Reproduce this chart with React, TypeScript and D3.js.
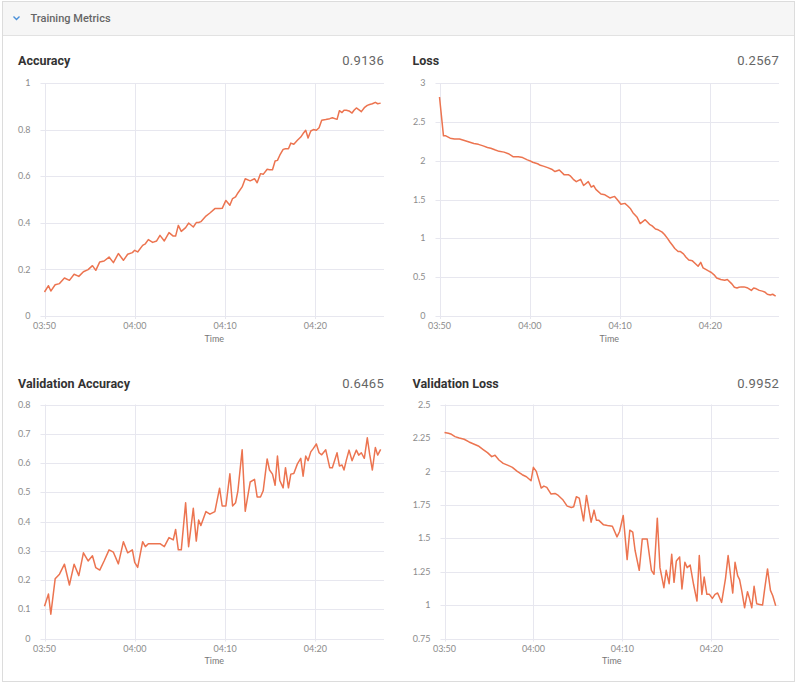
import React from "react";
import * as d3 from "d3";

// ---- data ----
const elapsedMinutes = [
  0, 0.44, 0.7, 1.18, 1.66, 2.21, 2.76, 3.28, 3.8, 4.31,
  4.83, 5.31, 5.68, 6.12, 6.6, 7.15, 7.63, 8.18, 8.74, 9.21,
  9.73, 9.99, 10.32, 10.87, 11.17, 11.5, 11.98, 12.42, 12.79, 13.27,
  13.79, 14.26, 14.52, 14.82, 15.15, 15.63, 15.96, 16.48, 16.81, 17.07,
  17.32, 17.88, 18.32, 18.87, 19.39, 19.68, 20.09, 20.53, 20.83, 21.16,
  21.42, 21.89, 22.23, 22.78, 23.26, 23.55, 23.92, 24.22, 24.66, 24.92,
  25.25, 25.54, 25.8, 26.06, 26.43, 26.69, 27.02, 27.28, 27.61, 28.01,
  28.38, 28.64, 28.93, 29.19, 29.49, 29.78, 30.11, 30.41, 30.7, 31.15,
  31.59, 31.88, 32.4, 32.66, 32.95, 33.17, 33.43, 33.73, 34.06, 34.28,
  34.54, 34.8, 35.09, 35.42, 35.75, 36.01, 36.31, 36.64, 36.9, 37.23,
];

const accuracy = [
  0.103, 0.13, 0.107, 0.134, 0.139, 0.163, 0.153, 0.179, 0.17, 0.19,
  0.199, 0.216, 0.196, 0.232, 0.236, 0.253, 0.229, 0.268, 0.239, 0.265,
  0.272, 0.282, 0.275, 0.303, 0.31, 0.328, 0.316, 0.322, 0.346, 0.322,
  0.358, 0.343, 0.343, 0.389, 0.363, 0.379, 0.399, 0.382, 0.401, 0.401,
  0.405, 0.429, 0.442, 0.461, 0.461, 0.462, 0.496, 0.475, 0.504, 0.511,
  0.528, 0.554, 0.589, 0.58, 0.589, 0.572, 0.611, 0.608, 0.63, 0.628,
  0.628, 0.665, 0.668, 0.69, 0.715, 0.718, 0.718, 0.742, 0.737, 0.754,
  0.768, 0.783, 0.797, 0.764, 0.794, 0.8, 0.797, 0.808, 0.84, 0.843,
  0.847, 0.851, 0.844, 0.881, 0.873, 0.883, 0.883, 0.88, 0.871, 0.883,
  0.893, 0.886, 0.877, 0.894, 0.904, 0.908, 0.911, 0.917, 0.911, 0.9136,
];

const loss = [
  2.82, 2.32, 2.32, 2.29, 2.28, 2.28, 2.26, 2.24, 2.22, 2.21,
  2.19, 2.17, 2.16, 2.14, 2.12, 2.11, 2.09, 2.05, 2.05, 2.04,
  2.01, 2.0, 1.98, 1.96, 1.94, 1.93, 1.91, 1.89, 1.86, 1.88,
  1.82, 1.82, 1.8, 1.76, 1.73, 1.76, 1.68, 1.73, 1.66, 1.68,
  1.63, 1.57, 1.56, 1.52, 1.54, 1.5, 1.44, 1.45, 1.42, 1.38,
  1.33, 1.27, 1.19, 1.24, 1.18, 1.16, 1.12, 1.11, 1.08, 1.05,
  1.0, 0.95, 0.91, 0.87, 0.83, 0.83, 0.8, 0.76, 0.72, 0.71,
  0.67, 0.64, 0.69, 0.62, 0.6, 0.58, 0.56, 0.53, 0.49, 0.47,
  0.46, 0.47, 0.41, 0.37, 0.36, 0.37, 0.375, 0.375, 0.365, 0.35,
  0.33, 0.36, 0.35, 0.33, 0.32, 0.31, 0.28, 0.27, 0.28, 0.2567,
];

const validationAccuracy = [
  0.11, 0.152, 0.083, 0.204, 0.22, 0.254, 0.183, 0.254, 0.215, 0.293,
  0.265, 0.283, 0.242, 0.234, 0.265, 0.303, 0.295, 0.255, 0.331, 0.293,
  0.303, 0.26, 0.243, 0.331, 0.314, 0.324, 0.324, 0.324, 0.324, 0.314,
  0.345, 0.337, 0.373, 0.303, 0.303, 0.464, 0.314, 0.445, 0.333, 0.405,
  0.386, 0.434, 0.425, 0.434, 0.514, 0.453, 0.453, 0.563, 0.453, 0.464,
  0.505, 0.645, 0.435, 0.535, 0.544, 0.484, 0.484, 0.505, 0.614, 0.576,
  0.562, 0.524, 0.624, 0.54, 0.515, 0.584, 0.515, 0.562, 0.564, 0.597,
  0.616, 0.555, 0.624, 0.608, 0.638, 0.65, 0.665, 0.635, 0.628, 0.645,
  0.584, 0.584, 0.635, 0.59, 0.593, 0.576, 0.61, 0.644, 0.608, 0.625,
  0.644, 0.627, 0.635, 0.616, 0.686, 0.63, 0.576, 0.653, 0.627, 0.6465,
];

const validationLoss = [
  2.29, 2.285, 2.28, 2.26, 2.25, 2.24, 2.22, 2.205, 2.19, 2.165,
  2.14, 2.11, 2.12, 2.085, 2.06, 2.045, 2.03, 2.0, 1.975, 1.96,
  1.93, 2.03, 2.0, 1.875, 1.89, 1.88, 1.83, 1.835, 1.82, 1.79,
  1.74, 1.73, 1.735, 1.81, 1.8, 1.63, 1.82, 1.62, 1.71, 1.635,
  1.635, 1.6, 1.595, 1.59, 1.51, 1.55, 1.67, 1.34, 1.56, 1.545,
  1.41, 1.26, 1.495, 1.495, 1.26, 1.23, 1.65, 1.28, 1.13, 1.26,
  1.16, 1.38, 1.17, 1.33, 1.36, 1.12, 1.32, 1.28, 1.3, 1.15,
  1.03, 1.37, 1.08, 1.21, 1.08, 1.08, 1.05, 1.08, 1.09, 1.02,
  1.2, 1.37, 1.09, 1.32, 1.22, 1.19, 1.1, 0.98, 1.1, 1.05,
  0.98, 1.14, 1.01, 1.005, 1.0, 1.13, 1.27, 1.11, 1.07, 0.9952,
];

const accuracyTicks = [0, 0.2, 0.4, 0.6, 0.8, 1];
const lossTicks = [0, 0.5, 1, 1.5, 2, 2.5, 3];
const validationAccuracyTicks = [0, 0.1, 0.2, 0.3, 0.4, 0.5, 0.6, 0.7, 0.8];
const validationLossTicks = [0.75, 1, 1.25, 1.5, 1.75, 2, 2.25, 2.5];

const startTime = new Date(2020, 0, 1, 3, 50, 0);
const domainMinutes = 37.6;

// ---- layout ----
const W = 800;
const H = 685;
const LINE_COLOR = "#ec7450";
const GRID = "#e7e7ef";
const TICK_TEXT = "#8c8c8c";

type PanelSpec = {
  title: string;
  values: number[];
  ticks: number[];
  left: number;
  right: number;
  top: number;
  bottom: number;
  titleLeft: number;
  titleY: number;
};

const panels: PanelSpec[] = [
  { title: "Accuracy", values: accuracy, ticks: accuracyTicks, left: 44.5, right: 384, top: 83, bottom: 316, titleLeft: 18, titleY: 64.5 },
  { title: "Loss", values: loss, ticks: lossTicks, left: 439.5, right: 779, top: 83, bottom: 316, titleLeft: 412.5, titleY: 64.5 },
  { title: "Validation Accuracy", values: validationAccuracy, ticks: validationAccuracyTicks, left: 44.5, right: 384, top: 404.5, bottom: 638.5, titleLeft: 18, titleY: 387.5 },
  { title: "Validation Loss", values: validationLoss, ticks: validationLossTicks, left: 444.5, right: 779, top: 404.5, bottom: 638.5, titleLeft: 412.5, titleY: 387.5 },
];

const fmtTime = d3.timeFormat("%H:%M");

function Panel({ p }: { p: PanelSpec }) {
  const x = d3
    .scaleTime()
    .domain([startTime, new Date(startTime.getTime() + domainMinutes * 60000)])
    .range([p.left, p.right]);
  const y = d3
    .scaleLinear()
    .domain([p.ticks[0], p.ticks[p.ticks.length - 1]])
    .range([p.bottom, p.top]);
  const xTicks = x.ticks(d3.timeMinute.every(10) as any);
  const pts = elapsedMinutes.map((m, i) => ({
    t: new Date(startTime.getTime() + m * 60000),
    v: p.values[i],
  }));
  const line = d3
    .line<{ t: Date; v: number }>()
    .x((d) => x(d.t))
    .y((d) => y(d.v));
  const last = p.values[p.values.length - 1];
  return (
    <g>
      <text x={p.titleLeft} y={p.titleY} fontFamily="Roboto, 'Noto Sans', sans-serif" fontSize={12.5} fontWeight={700} fill="#333">
        {p.title}
      </text>
      <text x={p.right} y={p.titleY} textAnchor="end" fontFamily="Roboto, 'Noto Sans', sans-serif" fontSize={13} fill="#666" letterSpacing={0.3}>
        {last.toFixed(4)}
      </text>
      {p.ticks.map((t) => (
        <g key={"y" + t}>
          <line x1={p.left - 4} x2={p.right} y1={Math.round(y(t)) + 0.5} y2={Math.round(y(t)) + 0.5} stroke={GRID} strokeWidth={1} />
          <text x={p.left - 14} y={y(t)} dy="0.35em" textAnchor="end" fontFamily="Lato, sans-serif" fontSize={9} fill={TICK_TEXT}>
            {String(t)}
          </text>
        </g>
      ))}
      {xTicks.map((t) => (
        <g key={"x" + t.getTime()}>
          <line x1={Math.round(x(t)) + 0.5} x2={Math.round(x(t)) + 0.5} y1={p.top} y2={p.bottom + 3} stroke={GRID} strokeWidth={1} />
          <text x={x(t)} y={p.bottom + 13} textAnchor="middle" fontFamily="Lato, sans-serif" fontSize={9} fill={TICK_TEXT}>
            {fmtTime(t)}
          </text>
        </g>
      ))}
      <text x={(p.left + p.right) / 2} y={p.bottom + 25.5} textAnchor="middle" fontFamily="Lato, sans-serif" fontSize={9} fill="#777">
        Time
      </text>
      <path d={line(pts) || ""} fill="none" stroke={LINE_COLOR} strokeWidth={1.5} strokeLinejoin="round" />
    </g>
  );
}

export default function App() {
  return (
    <div style={{ position: "absolute", left: 0, top: 0 }}>
      <svg width={W} height={H} style={{ display: "block" }}>
        <rect x={0} y={0} width={W} height={H} fill="#fff" />
        <rect x={2.5} y={1.5} width={792} height={680} fill="#fff" stroke="#dcdcdc" />
        <rect x={3} y={2} width={791} height={33} fill="#f6f6f6" />
        <line x1={3} x2={794} y1={35.5} y2={35.5} stroke="#e2e2e2" />
        <path d="M13.5,16.5 L16.5,19.5 L19.5,16.5" fill="none" stroke="#4a90d9" strokeWidth={1.4} />
        <text x={30.5} y={21.8} fontFamily="Roboto, 'Noto Sans', sans-serif" fontSize={11} fontWeight={500} fill="#666">
          Training Metrics
        </text>
        {panels.map((p) => (
          <Panel key={p.title} p={p} />
        ))}
      </svg>
    </div>
  );
}
